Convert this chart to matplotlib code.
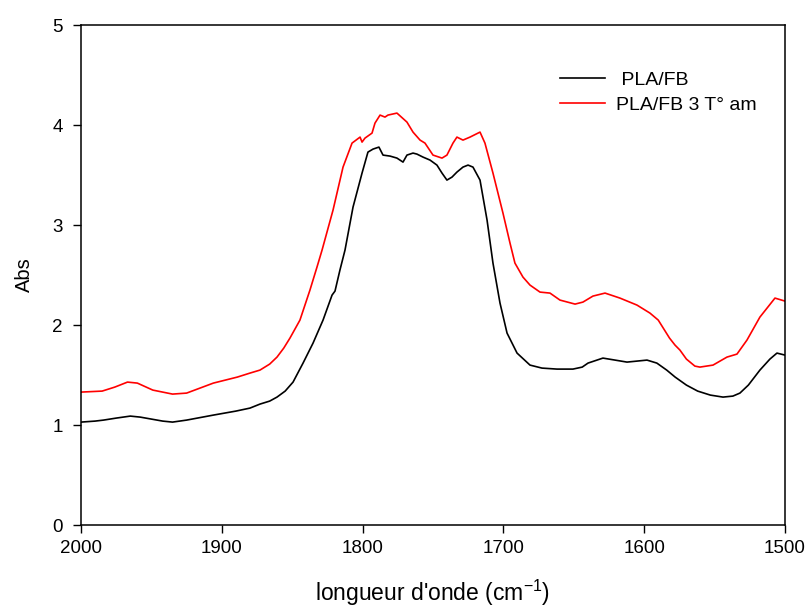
import matplotlib
matplotlib.use("Agg")
import matplotlib.pyplot as plt
import numpy as np

plt.rcParams["font.family"] = ["Liberation Sans", "DejaVu Sans"]
plt.rcParams["mathtext.default"] = "regular"

# ── Spectra (wavenumber in cm-1, absorbance) ─────────────────────────────

wn_ref = [2000.0, 1990.0, 1984.0, 1975.0, 1965.0, 1958.0, 1950.0, 1942.0,
          1935.0, 1925.0, 1906.0, 1890.0, 1880.0, 1872.9, 1866.0, 1860.8,
          1855.0, 1849.4, 1842.3,
          1835.2, 1828.1, 1821.7, 1819.6, 1816.1, 1812.5, 1806.8, 1800.4,
          1796.2, 1792.6, 1788.4, 1785.5, 1780.5, 1775.6, 1771.3, 1768.5,
          1764.2, 1761.4, 1757.1, 1752.1, 1747.2, 1743.6, 1740.1, 1736.5,
          1733.0, 1728.7, 1725.1, 1721.6, 1716.6, 1711.6, 1707.4, 1702.4,
          1697.4, 1690.3, 1681.1, 1672.6, 1661.9, 1650.6, 1644.0, 1639.9,
          1629.3, 1620.7, 1612.2, 1598.0, 1591.0, 1584.0, 1578.0, 1570.0,
          1562.0, 1553.0, 1544.0, 1537.0, 1532.0, 1526.0, 1517.8, 1510.7,
          1505.7, 1500.0]
abs_ref = [1.03, 1.04, 1.05, 1.07, 1.09, 1.08, 1.06, 1.04,
           1.03, 1.05, 1.10, 1.14, 1.17, 1.21, 1.24, 1.28,
           1.34, 1.43, 1.62,
           1.82, 2.05, 2.30, 2.34, 2.55, 2.75, 3.18, 3.52,
           3.73, 3.76, 3.78, 3.70, 3.69, 3.67, 3.63, 3.70,
           3.72, 3.71, 3.68, 3.65, 3.60, 3.52, 3.45, 3.48,
           3.53, 3.58, 3.60, 3.58, 3.45, 3.05, 2.62, 2.22,
           1.92, 1.72, 1.60, 1.57, 1.56, 1.56, 1.58, 1.62,
           1.67, 1.65, 1.63, 1.65, 1.62, 1.55, 1.48, 1.40,
           1.34, 1.30, 1.28, 1.29, 1.32, 1.40, 1.55, 1.66,
           1.72, 1.70]

wn_aged = [2000.0, 1985.0, 1976.0, 1967.0, 1960.0, 1949.0, 1935.0, 1925.0,
           1906.0, 1889.0, 1880.0, 1872.9, 1866.0, 1860.8, 1856.0, 1851.6,
           1844.5, 1837.4, 1832.4,
           1828.8, 1821.0, 1813.9, 1807.5, 1801.8, 1800.4, 1798.3, 1793.3,
           1791.2, 1787.6, 1784.1, 1782.0, 1775.6, 1768.5, 1764.2, 1759.2,
           1755.7, 1750.0, 1743.6, 1740.1, 1735.8, 1733.0, 1728.7, 1723.7,
           1716.6, 1713.1, 1707.4, 1700.3, 1695.3, 1691.8, 1686.1, 1681.1,
           1674.0, 1666.9, 1659.8, 1649.1, 1643.5, 1636.4, 1627.8, 1617.2,
           1605.1, 1595.9, 1590.0, 1582.0, 1578.1, 1574.6, 1570.0, 1564.0,
           1560.4, 1551.1, 1541.2, 1534.1, 1527.0, 1517.8, 1507.1, 1500.0]
abs_aged = [1.33, 1.34, 1.38, 1.43, 1.42, 1.35, 1.31, 1.32,
            1.42, 1.48, 1.52, 1.55, 1.61, 1.68, 1.77, 1.87,
            2.05, 2.35, 2.58,
            2.75, 3.15, 3.58, 3.82, 3.88, 3.83, 3.87, 3.92,
            4.02, 4.10, 4.08, 4.10, 4.12, 4.03, 3.93, 3.85,
            3.82, 3.70, 3.67, 3.70, 3.82, 3.88, 3.85, 3.88,
            3.93, 3.82, 3.52, 3.12, 2.82, 2.62, 2.48, 2.40,
            2.33, 2.32, 2.25, 2.21, 2.23, 2.29, 2.32, 2.27,
            2.20, 2.12, 2.05, 1.87, 1.80, 1.75, 1.66, 1.59,
            1.58, 1.60, 1.68, 1.71, 1.85, 2.08, 2.27, 2.24]

labels = [" PLA/FB", "PLA/FB 3 T° am"]

# ── Figure ───────────────────────────────────────────────────────────────

fig = plt.figure(figsize=(8.11, 6.12), dpi=100)
ax = fig.add_axes([0.0999, 0.142, 0.868, 0.817])

ax.plot(wn_ref, abs_ref, color="black", linewidth=1.2, label=labels[0])
ax.plot(wn_aged, abs_aged, color="red", linewidth=1.2, label=labels[1])

ax.set_xlim(2000, 1500)
ax.set_ylim(0, 5)
ax.set_xticks(np.arange(2000, 1499, -100))
ax.set_yticks(np.arange(0, 6, 1))
ax.tick_params(direction="out", length=6, width=1, labelsize=13.5,
               top=False, right=False)
ax.tick_params(axis="x", pad=5)
ax.tick_params(axis="y", pad=7)
for sp in ax.spines.values():
    sp.set_linewidth(1.1)

ax.set_xlabel("longueur d'onde (cm$^{-1}$)", fontsize=16.5, labelpad=15)
ax.set_ylabel("Abs", fontsize=14.5, labelpad=13)

ax.legend(loc="upper left", bbox_to_anchor=(560 / 811, 1 - 71 / 612),
          bbox_transform=fig.transFigure, frameon=False, fontsize=14,
          handlelength=2.3, handletextpad=0.6, labelspacing=0.38,
          borderpad=0, borderaxespad=0)

fig.savefig("out.png", dpi=100)
